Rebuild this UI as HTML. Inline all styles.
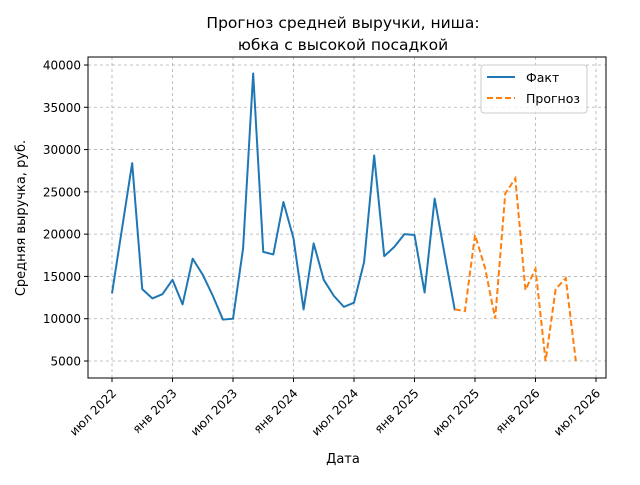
<!DOCTYPE html>
<html><head><meta charset="utf-8"><style>
body{margin:0;background:#fff}
svg text{font-family:"DejaVu Sans","Liberation Sans",sans-serif;fill:#000}
</style></head><body>
<svg id="chart" width="640" height="480" xmlns="http://www.w3.org/2000/svg">
<text x="343" y="28" font-size="15.5" text-anchor="middle">Прогноз средней выручки, ниша:</text>
<text x="343" y="50" font-size="15.5" text-anchor="middle">юбка с высокой посадкой</text>
<text transform="translate(25,218) rotate(-90)" font-size="13" text-anchor="middle">Средняя выручка, руб.</text>
<text x="343" y="463" font-size="13" text-anchor="middle">Дата</text>
<g id="grid"></g><g id="series"></g><g id="axes"></g>
<g>
<rect x="481" y="65" width="106" height="48" rx="3" fill="#fff" fill-opacity="0.8" stroke="#ccc"/>
<line x1="487" y1="77" x2="515" y2="77" stroke="#1f77b4" stroke-width="2"/>
<text x="526" y="82" font-size="12.5">Факт</text>
<line x1="487" y1="98" x2="515" y2="98" stroke="#ff7f0e" stroke-width="2" stroke-dasharray="6,3"/>
<text x="526" y="103" font-size="12.5">Прогноз</text>
</g>
</svg>
<script>
const factValues=[13000,20700,28400,13500,12400,12900,14600,11700,17100,15200,12700,9900,10000,18300,39000,17900,17600,23800,19500,11100,18900,14600,12700,11400,11900,16700,29300,17400,18500,20000,19900,13100,24200,17500,11000];
const factStartIndex=0; // Jul 2022
const forecastValues=[11100,10900,19900,16000,10000,24800,26600,13400,15900,5000,13500,14800,5000];
const forecastStartIndex=34; // May 2025
const yTicks=[5000,10000,15000,20000,25000,30000,35000,40000];
const xTickLabels=["июл 2022","янв 2023","июл 2023","янв 2024","июл 2024","янв 2025","июл 2025","янв 2026","июл 2026"];
const xTickIndex=[0,6,12,18,24,30,36,42,48];

const L=88,R=606,T=57,B=378;
const xs=i=>112+i*(596-112)/48;
const ys=v=>361-(v-5000)*(361-65)/35000;
const NS="http://www.w3.org/2000/svg";
function mk(tag,attrs,parent){const e=document.createElementNS(NS,tag);for(const k in attrs)e.setAttribute(k,attrs[k]);parent.appendChild(e);return e;}
const grid=document.getElementById('grid'),axes=document.getElementById('axes'),series=document.getElementById('series');
yTicks.forEach(v=>{
  const g=mk('line',{x1:L,x2:R,y1:ys(v),y2:ys(v),stroke:'#b0b0b0','stroke-width':0.8,'stroke-dasharray':'3,3'},grid);
  
  
  mk('line',{x1:L-4,x2:L,y1:ys(v),y2:ys(v),stroke:'#000'},axes);
  const t=mk('text',{x:L-7,y:ys(v)+4.5,'font-size':12,'text-anchor':'end'},axes);
  t.textContent=v;
  
  
});
xTickIndex.forEach((idx,k)=>{
  const x=xs(idx);
  const g=mk('line',{x1:x,x2:x,y1:T,y2:B,stroke:'#b0b0b0','stroke-width':0.8,'stroke-dasharray':'3,3'},grid);
  
  
  mk('line',{x1:x,x2:x,y1:B,y2:B+4,stroke:'#000'},axes);
  const t=mk('text',{x:x+5,y:B+16,'font-size':12,'text-anchor':'end',transform:`rotate(-45 ${x+5} ${B+16})`},axes);
  t.textContent=xTickLabels[k];
  
  
});
const frame=mk('rect',{x:L,y:T,width:R-L,height:B-T,fill:'none',stroke:'#000','stroke-width':1},axes);


const fp=factValues.map((v,i)=>xs(factStartIndex+i)+','+ys(v)).join(' ');
const fl=mk('polyline',{points:fp,fill:'none',stroke:'#1f77b4','stroke-width':2,'stroke-linejoin':'round'},series);


const pp=forecastValues.map((v,i)=>xs(forecastStartIndex+i)+','+ys(v)).join(' ');
const pl=mk('polyline',{points:pp,fill:'none',stroke:'#ff7f0e','stroke-width':2,'stroke-dasharray':'6,3'},series);


</script>
</body></html>
